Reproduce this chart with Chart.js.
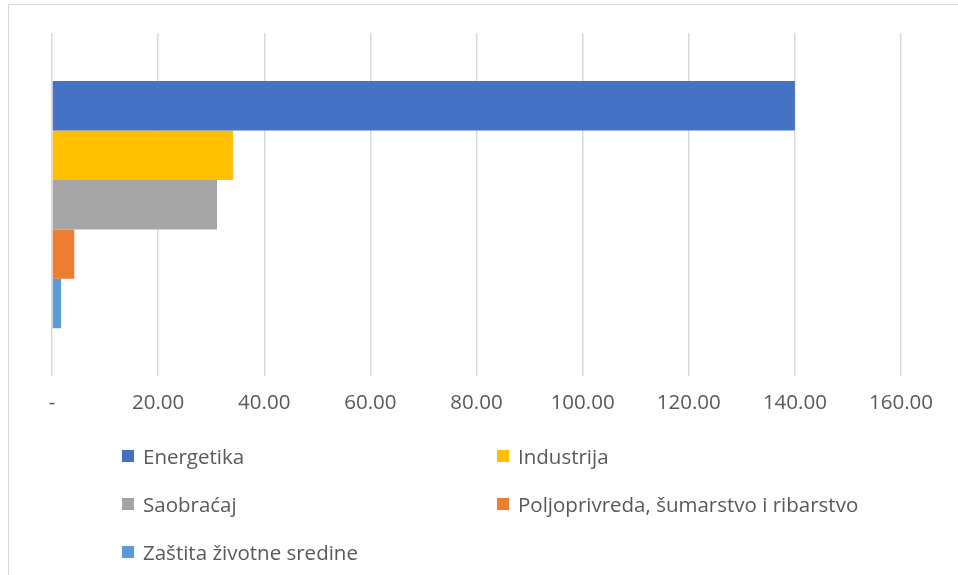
<!DOCTYPE html>
<html>
<head>
<meta charset="utf-8">
<script src="https://cdn.jsdelivr.net/npm/chart.js@4/dist/chart.umd.min.js"></script>
<style>
  body { margin: 0; background: #fff; }
  #wrap { position: relative; width: 958px; height: 575px; overflow: hidden; font-family: "Open Sans", sans-serif; }
  #frame { position: absolute; left: 8px; top: 4px; width: 970px; height: 600px; border: 1.5px solid #d9d9d9; box-sizing: border-box; }
  #chartBox { position: absolute; left: 0; top: 0; width: 958px; height: 433px; }
  #legend { position: absolute; left: 0; top: 0; width: 958px; height: 575px; }
  .item { position: absolute; display: flex; align-items: center; font-size: 20.5px; color: #595959; white-space: nowrap; }
  .box { width: 12px; height: 12px; margin-right: 9px; }
</style>
</head>
<body>
<div id="wrap">
  <div id="frame"></div>
  <div id="chartBox"><canvas id="sectorChart"></canvas></div>
  <div id="legend"></div>
</div>
<script>
  // data
  const sectors = ['Energetika', 'Industrija', 'Saobraćaj', 'Poljoprivreda, šumarstvo i ribarstvo', 'Zaštita životne sredine'];
  const values = [140.0, 34.1, 31.1, 4.2, 1.7];
  const colors = ['#4472C4', '#FFC000', '#A5A5A5', '#ED7D31', '#5B9BD5'];
  const xTicks = [0, 20, 40, 60, 80, 100, 120, 140, 160];

  const ctx = document.getElementById('sectorChart').getContext('2d');
  const sectorChart = new Chart(ctx, {
    type: 'bar',
    data: {
      labels: [''],
      datasets: sectors.map((s, i) => ({
        label: s,
        data: [values[i]],
        backgroundColor: colors[i],
        borderWidth: 0,
        barPercentage: 1,
        categoryPercentage: 0.72,
      }))
    },
    options: {
      indexAxis: 'y',
      responsive: true,
      maintainAspectRatio: false,
      animation: false,
      layout: { padding: { left: 52, right: 57, top: 33, bottom: 4 } },
      plugins: { legend: { display: false }, tooltip: { enabled: false } },
      scales: {
        x: {
          min: xTicks[0],
          max: xTicks[xTicks.length - 1],
          afterBuildTicks: axis => { axis.ticks = xTicks.map(v => ({ value: v })); },
          ticks: {
            padding: 14,
            color: '#595959',
            font: { family: 'Open Sans', size: 20.5 },
            callback: v => v === 0 ? '-' : v.toFixed(2)
          },
          grid: { color: '#d9d9d9', lineWidth: 1.5, drawTicks: false },
          border: { display: false }
        },
        y: { display: false }
      }
    }
  });

  // legend in two columns, like the original
  const legend = document.getElementById('legend');
  const colX = [122, 497];
  const rowY = [456, 504, 552];
  sectors.forEach((s, i) => {
    const el = document.createElement('div');
    el.className = 'item';
    el.style.left = colX[i % 2] + 'px';
    el.style.top = (rowY[Math.floor(i / 2)] - 14) + 'px';
    el.style.height = '28px';
    el.innerHTML = '<span class="box" style="background:' + colors[i] + '"></span><span></span>';
    el.lastChild.textContent = s;
    legend.appendChild(el);
  });
</script>
</body>
</html>
